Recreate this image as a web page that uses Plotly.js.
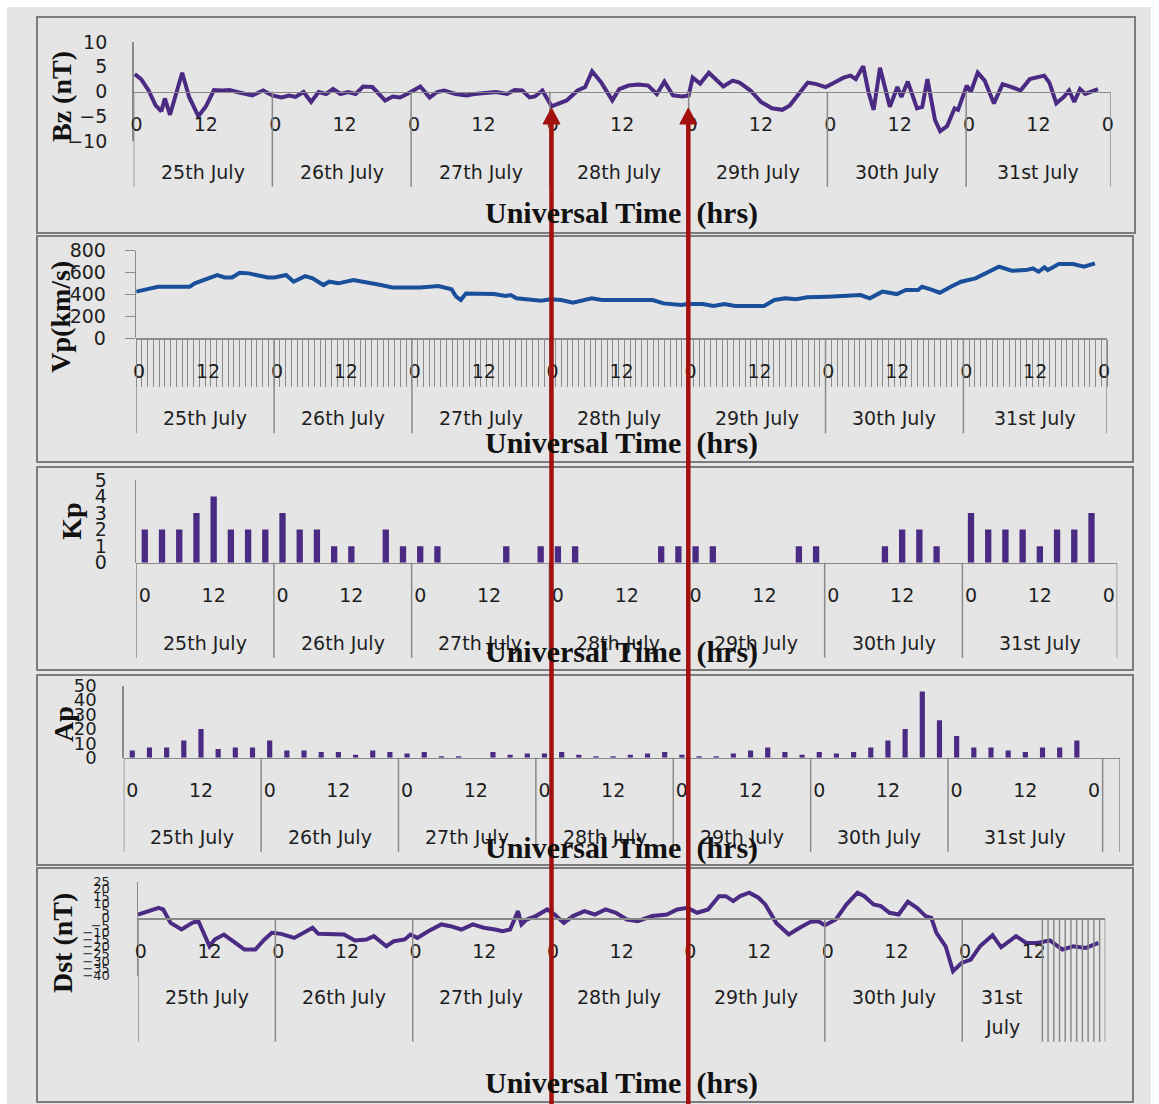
<!DOCTYPE html>
<html>
<head>
<meta charset="utf-8">
<script src="https://cdn.plot.ly/plotly-3.0.1.min.js"></script>
<style>
html,body{margin:0;padding:0;background:#ffffff;}
#chart{width:1159px;height:1104px;}
</style>
</head>
<body>
<div id="chart"></div>
<script>
// ---------------- DATA ----------------
const dayLabels = ['25th July','26th July','27th July','28th July','29th July','30th July','31st July'];
const tickZeroText = '0';
const tickNoonText = '12';
const yTitles = ['Bz (nT)','Vp(km/s)','Kp','Ap','Dst (nT)'];
const xTitle = 'Universal Time\u00a0 (hrs)';

// Bz (nT), hours from 00 UT 25 July
const bzHours = [0.2,1.3,2.6,3.8,4.8,5.4,6.3,7.4,8.4,9.6,
  11.2,12.5,13.9,15.4,16.6,17.9,20.5,22.4,24,25.6,
  26.9,28,29.4,30.7,32,33.3,34.5,35.8,37.1,38.4,
  39.7,41.3,42.5,43.5,44.8,46.1,47.3,48.2,49.6,51.2,
  52.5,53.7,55.7,57.6,58.9,60.8,62.7,64.6,65.9,67.2,
  68.5,69.4,70.7,72.3,74.9,76.8,78.1,79.3,80.9,82.8,
  84,85.6,87.4,89,90.5,91.8,93.3,94.9,96,96.7,
  98,99.5,100.8,102,103.6,104.8,106.7,108.5,110.4,112.2,
  113.5,115.3,116.6,118.1,119.7,120.9,122.8,124,124.9,126.2,
  127.1,128,129.1,130.8,132.1,132.8,133.9,135.5,136.4,137.3,
  138.6,139.5,140.7,142,142.6,144.1,144.8,146,147.2,148.8,
  150.3,151.9,153.4,155,157.5,158.4,159.6,160.9,161.8,162.7,
  163.7,164.6,165.5,166.8];
const bzValues = [3.5,2.5,0.2,-2.8,-4,-1.4,-4.7,-0.5,3.8,-1.1,
  -5,-3,0.3,0.2,0.3,-0.1,-0.8,0.2,-0.8,-1.2,
  -0.8,-1.1,-0.1,-2.1,-0.1,-0.5,0.5,-0.5,-0.1,-0.5,
  1,0.9,-0.5,-1.8,-1,-1.2,-0.5,0,1,-1.2,
  -0.1,0.2,-0.5,-0.8,-0.5,-0.3,-0.1,-0.5,0.3,0.2,
  -1.2,-1,0.2,-3,-1.8,0.2,0.9,4.1,1.8,-1.8,
  0.5,1.2,1.4,1.2,-0.5,2,-0.8,-1,-0.8,2.8,
  1.6,3.8,2.2,1,2.2,1.8,0.2,-2.1,-3.4,-3.7,
  -2.8,-0.1,1.8,1.5,0.9,1.6,2.8,3.2,2.5,5.1,
  -0.1,-3.7,4.8,-3.1,0.9,-1.1,2,-3.4,-3.1,2.5,
  -5.7,-8,-7,-3.4,-3.7,1.2,-0.1,3.8,2.2,-2.4,
  1.5,0.9,0.2,2.5,3.2,1.8,-2.4,-1.1,0.2,-2.1,
  0.5,-0.5,-0.1,0.5];

// Vp (km/s)
const vpHours = [0,1.5,2.8,3.8,6,9.3,10.2,11.9,14.1,15.4,
  16.7,18,19.6,20.9,22.9,24.1,26.1,27.4,29.4,30.7,
  32.6,33.6,35.2,37.8,39.1,41,42.6,44.6,46.2,49.4,
  52.6,54.9,55.7,56.5,57.4,59.1,62.3,64.3,65.2,66.2,
  68.2,70.5,72.1,74,76,77.9,79.3,81.1,83.6,89.9,
  91.8,94.9,96,98.6,100.5,102.4,104.3,109.3,111.1,113,
  114.9,116.8,120.5,124.3,126.1,127.7,129.9,132.4,134,136.1,
  136.8,138.3,139.9,141.8,143.6,146.1,148,150.2,152.4,154.9,
  156.1,157.1,158.1,158.7,160.6,163.1,165,166.9];
const vpValues = [426,447,456,471,471,471,502,532,578,556,
  556,599,593,578,556,556,578,517,568,547,
  486,517,502,532,517,496,486,465,465,465,
  477,447,380,350,410,410,404,386,395,365,
  356,344,356,350,325,350,365,350,350,350,
  319,304,313,313,295,313,295,295,350,365,
  356,374,380,395,395,365,426,404,441,441,
  471,447,416,471,517,547,593,654,617,623,
  638,608,648,623,678,678,654,684];

// Kp, 3-hourly slots (25-31 July)
const kpValues = [2,2,2,3,4,2,2,2,
  3,2,2,1,1,0,2,1,
  1,1,0,0,0,1,0,1,
  1,1,0,0,0,0,1,1,
  1,1,0,0,0,0,1,1,
  0,0,0,1,2,2,1,0,
  3,2,2,2,1,2,2,3];

// Ap, 3-hourly slots (25-31 July)
const apValues = [5,7,7,12,20,6,7,7,
  12,5,5,4,4,2,5,4,
  3,4,1,1,0,4,2,3,
  3,4,2,1,1,2,3,4,
  2,1,1,3,5,7,4,2,
  4,3,4,7,12,20,46,26,
  15,7,7,5,4,7,7,12];

// Dst (nT)
const dstHours = [0,1.8,3.6,4.4,5.7,7.6,9.5,10.5,11.5,12.5,
  13.4,15,16.6,18.6,20.5,22.1,23.4,25,27.3,29.2,
  30.5,31.5,34.1,36,37.9,39.9,41.2,43.4,44.7,46.6,
  47.6,48.8,50.7,53,54.6,56.5,58.5,60.4,62.4,63.7,
  65,65.7,66.4,67,67.9,69.5,70.5,71.5,72.8,74.4,
  76,78,79.8,81.7,83.5,85.4,87.3,89.8,92.4,94.2,
  96,97.7,99.6,101.5,102.7,104,105.2,106.8,108.4,109.6,
  111.5,113.7,115.6,117.5,118.8,120,121.9,123.8,125.7,126.9,
  128.5,129.8,131.3,132.9,134.5,136.1,137.6,138.6,139.5,141.1,
  142.4,143.9,145.5,147.1,149.3,150.8,153.4,155.2,157.1,159.3,
  161.5,163.4,165.6,167.8];
const dstValues = [2.3,4.6,6.9,5.8,-3.5,-8.1,-3.5,-1.9,-11.6,-19.7,
  -15,-11.6,-16.2,-22,-22,-15,-10.4,-11.1,-13.9,-9.3,
  -6.9,-11.1,-11.1,-11.6,-15.7,-15,-12.7,-19.7,-16.2,-15,
  -11.6,-13.9,-9.3,-4.6,-5.8,-8.1,-4.6,-6.9,-8.1,-9.3,
  -8.1,-2.3,4.6,-4.6,-1.2,1.2,3.5,5.8,2.3,-3.5,
  1.2,4.6,2.3,5.8,3.5,-1.2,-2.3,1.2,2.3,5.8,
  6.9,3.5,5.8,15,15,11.6,15,17.4,13.9,9.3,
  -3.5,-11.6,-6.9,-2.8,-2.3,-5.1,-1.2,9.3,17.4,15,
  9.3,8.1,3.5,2.3,11.1,6.9,1.2,0,-10.4,-19.7,
  -37,-31.2,-28.9,-19.7,-12,-20.4,-12.7,-17.4,-17.4,-15.7,
  -22,-19.7,-20.8,-17.4];

// ---------------- LAYOUT HELPERS ----------------
const W = 1159, H = 1104;
const fx = p => p / W;
const fy = p => 1 - p / H;
const PURPLE = '#4a2a82';
const BLUE = '#1a4f9b';
const AXIS_GRAY = '#8a8a8a';
const TEXT = '#1e1e1e';
const RED = '#a3110f';
const SANS = 'DejaVu Sans, sans-serif';
const SERIF = 'Liberation Serif, Times New Roman, serif';

// panel geometry (pixels)
const panels = [
  {left:133.6, right:1110.7, yTop:42, yBot:141, range:[-10,10], zero:91.5, end:169, slot:1,
   g31:169, finalZero:true, yticks:{tickvals:[-10,-5,0,5,10]}, yfont:19, ylen:21,
   dayY:171.7, sepBot:186.7, titleY:213, ytX:62, ytY:96, box:[37,17,1135,233]},
  {left:136.2, right:1107, yTop:250.7, yBot:338.3, range:[0,800], zero:338.3, end:169, slot:1,
   g31:169, finalZero:true, yticks:{dtick:200, tick0:0}, yfont:19, ylen:10, visibleYTicks:true,
   dayY:418.3, sepBot:433.3, titleY:443.3, ytX:61, ytY:316.7, box:[37,236,1133,462]},
  {left:136.2, right:1117.3, yTop:480, yBot:562.7, range:[0,5], zero:562.7, end:171, slot:3,
   g31:171, finalZero:true, yticks:{dtick:1, tick0:0}, yfont:19, ylen:24,
   dayY:643.3, sepBot:657.7, titleY:652, ytX:72, ytY:521.7, box:[37,467,1133,670]},
  {left:123.7, right:1119.8, yTop:685.7, yBot:757.7, range:[0,50], zero:757.7, end:174, slot:3,
   g31:171, finalZero:true, extraSep:[174], yticks:{dtick:10, tick0:0}, yfont:18, ylen:22,
   dayY:836.7, sepBot:851.7, titleY:848.3, ytX:63, ytY:724, box:[37,675,1133,865]},
  {left:138, right:1105.3, yTop:881.7, yBot:975.6, range:[-40,25], zero:918.3, end:169, slot:1,
   g31:158, finalZero:false, hourlySepFrom:159, yticks:{dtick:5, tick0:0}, yfont:13, ylen:24,
   dayY:996.7, sepBot:1041.7, titleY:1083.3, ytX:62, ytY:943, box:[37,868,1133,1102], splitLast:true}
];

const layout = {
  width: W, height: H,
  margin: {l:0, r:0, t:0, b:0},
  paper_bgcolor: '#ffffff',
  plot_bgcolor: 'rgba(0,0,0,0)',
  showlegend: false,
  shapes: [],
  annotations: []
};

// page background
layout.shapes.push({type:'rect', xref:'paper', yref:'paper', layer:'below',
  x0:fx(7), x1:fx(1151), y0:fy(1104), y1:fy(7), fillcolor:'#e5e5e5', line:{width:0}});

panels.forEach((p, i) => {
  const n = i + 1;
  const xs = n === 1 ? '' : String(n);
  const xName = 'x' + xs, yName = 'y' + xs;

  // panel frame
  layout.shapes.push({type:'rect', xref:'paper', yref:'paper', layer:'below',
    x0:fx(p.box[0]), x1:fx(p.box[2]), y0:fy(p.box[3]), y1:fy(p.box[1]),
    line:{color:'#7c7c7c', width:2}, fillcolor:'rgba(0,0,0,0)'});

  // x tick labels: "0" at start of each day, "12" at noon (category centres)
  const half = p.slot / 2;
  const tv = [], tt = [];
  for (let d = 0; d < 7; d++) {
    tv.push(24*d + half); tt.push(tickZeroText);
    tv.push(24*d + 12 + half); tt.push(tickNoonText);
  }
  if (p.finalZero) { tv.push(168 + half); tt.push(tickZeroText); }

  const xa = {
    domain:[fx(p.left), fx(p.right)], range:[0, p.end],
    anchor:'free', position: fy(p.zero),
    showline:true, linecolor:AXIS_GRAY, linewidth:1.5,
    showgrid:false, zeroline:false, fixedrange:true,
    tickmode:'array', tickvals:tv, ticktext:tt,
    ticks:'outside', ticklen:15, tickcolor:'rgba(0,0,0,0)',
    tickfont:{family:SANS, size:19, color:TEXT}
  };
  if (n === 2) {
    xa.minor = {ticks:'outside', ticklen:47, tickmode:'linear', tick0:0, dtick:1,
                tickcolor:AXIS_GRAY, tickwidth:1, showgrid:false};
  }
  layout['xaxis' + xs] = xa;

  const ya = Object.assign({
    domain:[fy(p.yBot), fy(p.yTop)], range:p.range, anchor:xName,
    showline:true, linecolor:AXIS_GRAY, linewidth:1.5,
    showgrid:false, zeroline:false, fixedrange:true,
    ticks:'outside', ticklen:p.ylen,
    tickcolor: p.visibleYTicks ? AXIS_GRAY : 'rgba(0,0,0,0)',
    tickfont:{family:SANS, size:p.yfont, color:TEXT}
  }, p.yticks.tickvals ? {tickmode:'array', tickvals:p.yticks.tickvals} : {tickmode:'linear', dtick:p.yticks.dtick, tick0:p.yticks.tick0});
  if (p.visibleYTicks) ya.ticklabelstandoff = 15;
  layout['yaxis' + xs] = ya;

  // day separator lines (below axis)
  const seps = [0,24,48,72,96,120,144, p.g31].concat(p.extraSep || []);
  if (p.hourlySepFrom) for (let h = p.hourlySepFrom; h <= p.end; h++) seps.push(h);
  seps.forEach(s => {
    layout.shapes.push({type:'line', xref:xName, yref:'paper',
      x0:s, x1:s, y0:fy(p.zero), y1:fy(p.sepBot),
      line:{color:AXIS_GRAY, width:1.5}});
  });

  // day labels
  dayLabels.forEach((lab, d) => {
    const a = 24*d, b = d === 6 ? p.g31 : 24*(d+1);
    if (p.splitLast && d === 6) {
      const parts = lab.split(' ');
      layout.annotations.push({xref:xName, yref:'paper', x:(a+b)/2, y:fy(p.dayY), text:parts[0],
        showarrow:false, xanchor:'center', yanchor:'middle', font:{family:SANS, size:19, color:TEXT}});
      layout.annotations.push({xref:xName, yref:'paper', x:(a+b)/2, y:fy(p.dayY + 30), text:parts[1],
        showarrow:false, xanchor:'center', yanchor:'middle', font:{family:SANS, size:19, color:TEXT}});
    } else {
      layout.annotations.push({xref:xName, yref:'paper', x:(a+b)/2, y:fy(p.dayY), text:lab,
        showarrow:false, xanchor:'center', yanchor:'middle', font:{family:SANS, size:19, color:TEXT}});
    }
  });

  // x axis title
  layout.annotations.push({xref:'paper', yref:'paper', x:fx(621.5), y:fy(p.titleY), text:'<b>' + xTitle + '</b>',
    showarrow:false, xanchor:'center', yanchor:'middle', font:{family:SERIF, size:30, color:'#111'}});
  // y axis title
  layout.annotations.push({xref:'paper', yref:'paper', x:fx(p.ytX), y:fy(p.ytY), text:'<b>' + yTitles[i] + '</b>',
    textangle:-90, showarrow:false, xanchor:'center', yanchor:'middle', font:{family:SERIF, size:28, color:'#111'}});
});

// red event markers (arrows)
[551.5, 688.3].forEach(xp => {
  layout.shapes.push({type:'line', xref:'paper', yref:'paper', layer:'above',
    x0:fx(xp), x1:fx(xp), y0:fy(120), y1:fy(1104), line:{color:RED, width:4.5}});
  layout.shapes.push({type:'path', xref:'paper', yref:'paper', layer:'above',
    path:`M ${fx(xp-8.5)},${fy(124)} L ${fx(xp)},${fy(108)} L ${fx(xp+8.5)},${fy(124)} Z`,
    fillcolor:RED, line:{color:RED, width:1}});
});

const slotCentres = arr => arr.map((_, i) => 3*i + 1.5);

const traces = [
  {type:'scatter', mode:'lines', x:bzHours, y:bzValues, xaxis:'x', yaxis:'y',
   line:{color:PURPLE, width:4}, hoverinfo:'skip'},
  {type:'scatter', mode:'lines', x:vpHours, y:vpValues, xaxis:'x2', yaxis:'y2',
   line:{color:BLUE, width:4}, hoverinfo:'skip'},
  {type:'bar', x:slotCentres(kpValues), y:kpValues, xaxis:'x3', yaxis:'y3',
   width:1.1, marker:{color:PURPLE, line:{width:0}}, hoverinfo:'skip'},
  {type:'bar', x:slotCentres(apValues), y:apValues, xaxis:'x4', yaxis:'y4',
   width:0.9, marker:{color:PURPLE, line:{width:0}}, hoverinfo:'skip'},
  {type:'scatter', mode:'lines', x:dstHours, y:dstValues, xaxis:'x5', yaxis:'y5',
   line:{color:PURPLE, width:4}, hoverinfo:'skip'}
];

Plotly.newPlot('chart', traces, layout, {displayModeBar:false, staticPlot:true});
</script>
</body>
</html>
